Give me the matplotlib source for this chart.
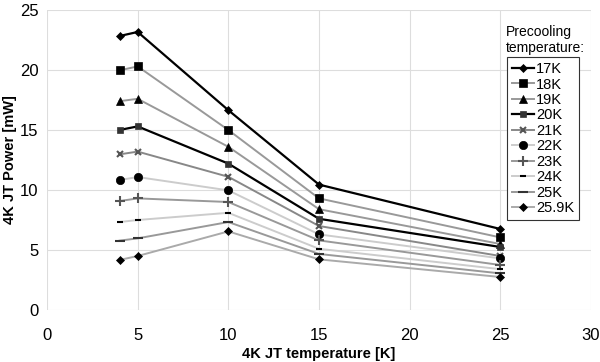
import matplotlib
matplotlib.use("Agg")
import matplotlib.pyplot as plt

plt.rcParams['font.family'] = ['Liberation Sans', 'DejaVu Sans']

jt_temp = [4, 5, 10, 15, 25]
labels = ['17K', '18K', '19K', '20K', '21K', '22K', '23K', '24K', '25K', '25.9K']
p17 = [22.83, 23.17, 16.65, 10.45, 6.75]
p18 = [19.97, 20.30, 15.00, 9.30, 6.05]
p19 = [17.40, 17.60, 13.60, 8.40, 5.50]
p20 = [15.00, 15.30, 12.20, 7.60, 5.25]
p21 = [12.97, 13.20, 11.10, 7.00, 4.50]
p22 = [10.83, 11.08, 9.97, 6.30, 4.30]
p23 = [9.08, 9.30, 9.00, 5.80, 3.75]
p24 = [7.33, 7.50, 8.10, 5.10, 3.40]
p25 = [5.78, 5.97, 7.33, 4.67, 3.05]
p259 = [4.17, 4.50, 6.55, 4.22, 2.75]
series = [p17, p18, p19, p20, p21, p22, p23, p24, p25, p259]

line_colors = ['#000000', '#999999', '#999999', '#000000', '#888888',
               '#cccccc', '#999999', '#cccccc', '#999999', '#aaaaaa']
markers = ['D', 's', '^', 's', 'x', 'o', '+', '_', '_', 'D']
msizes = [4, 6, 5.5, 5, 5, 6, 7, 4, 7, 4]
mcolors = ['#000000', '#000000', '#000000', '#333333', '#555555',
           '#000000', '#555555', '#000000', '#333333', '#000000']
lws = [1.6, 1.4, 1.4, 1.6, 1.4, 1.4, 1.4, 1.4, 1.4, 1.4]

fig = plt.figure(figsize=(6, 3.62), dpi=100)
ax = fig.add_axes([47/600, 1-310/362, (591-47)/600, 300/362])

for s, lab, c, m, ms, mc, lw in zip(series, labels, line_colors, markers, msizes, mcolors, lws):
    ax.plot(jt_temp, s, color=c, lw=lw, marker=m, markersize=ms,
            markerfacecolor=mc, markeredgecolor=mc, markeredgewidth=1.5 if m in ('x', '+', '_') else 0.5,
            label=lab)

ax.set_xlim(0, 30)
ax.set_ylim(0, 25)
ax.set_xticks([0, 5, 10, 15, 20, 25, 30])
ax.set_yticks([0, 5, 10, 15, 20, 25])
ax.grid(True, color='#dddddd', lw=0.8)
ax.set_axisbelow(True)
for sp in ax.spines.values():
    sp.set_visible(False)
ax.tick_params(axis='y', length=0, labelsize=12, pad=6)
ax.tick_params(axis='x', length=0, labelsize=12, pad=13)
ax.set_xlabel('4K JT temperature [K]', fontsize=10.5, fontweight='bold', labelpad=3)
ax.set_ylabel('4K JT Power [mW]', fontsize=10.5, fontweight='bold', va='center')
ax.yaxis.set_label_coords((10 - 47) / 544, 0.5)

leg = ax.legend(loc='upper left', bbox_to_anchor=(507/600, 1-57/362),
                bbox_transform=fig.transFigure, fontsize=10.5, frameon=True,
                fancybox=False, edgecolor='#333333', framealpha=1,
                handlelength=1.5, handletextpad=0.15, labelspacing=0.1,
                borderpad=0.35, borderaxespad=0)
leg.get_frame().set_linewidth(0.8)
fig.text(506/600, 1-40/362, 'Precooling\ntemperature:', fontsize=10,
         ha='left', va='center', linespacing=1.15)

fig.savefig('out.png', dpi=100)
